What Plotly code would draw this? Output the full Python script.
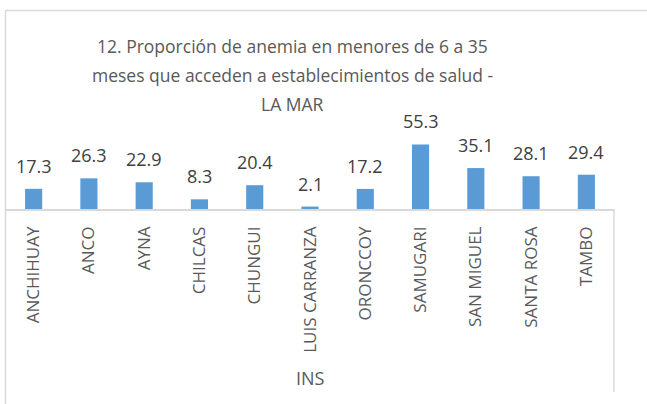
import plotly.graph_objects as go

# Data
categories = [
    "ANCHIHUAY", "ANCO", "AYNA", "CHILCAS", "CHUNGUI", "LUIS CARRANZA",
    "ORONCCOY", "SAMUGARI", "SAN MIGUEL", "SANTA ROSA", "TAMBO",
]
values = [17.3, 26.3, 22.9, 8.3, 20.4, 2.1, 17.2, 55.3, 35.1, 28.1, 29.4]
title_lines = [
    "12. Proporción de anemia en menores de 6 a 35",
    "meses que acceden a establecimientos de salud -",
    "LA MAR",
]
x_title = "INS"

FONT = "Open Sans"
BAR_COLOR = "#5B9BD5"
BORDER = "#D9D9D9"

W, H = 647, 404
L, R, T, B = 6, 33, 139, 195
PW, PH = W - L - R, H - T - B


def px_x(px):
    """Pixel x -> paper x."""
    return (px - L) / PW


def px_y(py):
    """Pixel y (from top) -> paper y."""
    return (H - B - py) / PH


fig = go.Figure()
fig.add_trace(
    go.Bar(
        x=categories,
        y=values,
        marker=dict(color=BAR_COLOR, line=dict(width=0)),
        hoverinfo="x+y",
    )
)

annotations = []
for cat, val in zip(categories, values):
    annotations.append(
        dict(
            x=cat, y=val, xref="x", yref="y",
            text=f"{val:.1f}", showarrow=False,
            yanchor="middle", yshift=23,
            font=dict(family=FONT, size=18, color="#404040"),
        )
    )

for i, line in enumerate(title_lines):
    annotations.append(
        dict(
            x=px_x(292), y=px_y(46 + i * 29), xref="paper", yref="paper",
            text=line, showarrow=False, xanchor="center", yanchor="middle",
            font=dict(family=FONT, size=17.5, color="#595959"),
        )
    )

annotations.append(
    dict(
        x=0.5, y=px_y(378), xref="paper", yref="paper",
        text=x_title, showarrow=False, xanchor="center", yanchor="middle",
        font=dict(family=FONT, size=18, color="#595959"),
    )
)

shapes = [
    # outer chart border (top and left visible)
    dict(type="line", xref="paper", yref="paper",
         x0=px_x(5.5), x1=px_x(660), y0=px_y(10.5), y1=px_y(10.5),
         line=dict(color=BORDER, width=1.5)),
    dict(type="line", xref="paper", yref="paper",
         x0=px_x(5.5), x1=px_x(5.5), y0=px_y(10.5), y1=px_y(410),
         line=dict(color=BORDER, width=1.5)),
    # right edge of the category panel
    dict(type="line", xref="paper", yref="paper",
         x0=px_x(614), x1=px_x(614), y0=px_y(209), y1=px_y(392),
         line=dict(color=BORDER, width=1.5)),
]

fig.update_layout(
    width=W,
    height=H,
    margin=dict(l=L, r=R, t=T, b=B, autoexpand=False),
    paper_bgcolor="white",
    plot_bgcolor="white",
    showlegend=False,
    bargap=0.69,
    annotations=annotations,
    shapes=shapes,
    font=dict(family=FONT, color="#595959"),
)
fig.update_xaxes(
    type="category",
    tickangle=-90,
    tickfont=dict(family=FONT, size=17, color="#595959"),
    showline=True,
    linecolor=BORDER,
    linewidth=1.5,
    ticks="",
    ticklabelstandoff=9,
    showgrid=False,
    zeroline=False,
)
fig.update_yaxes(
    range=[0, 60],
    visible=False,
    showgrid=False,
    zeroline=False,
)

# drop the browser's default body margin so the figure sits at the page origin
fig.write_html(
    "out.html",
    config={"displayModeBar": False},
    post_script="document.body.style.margin = '0';",
)
